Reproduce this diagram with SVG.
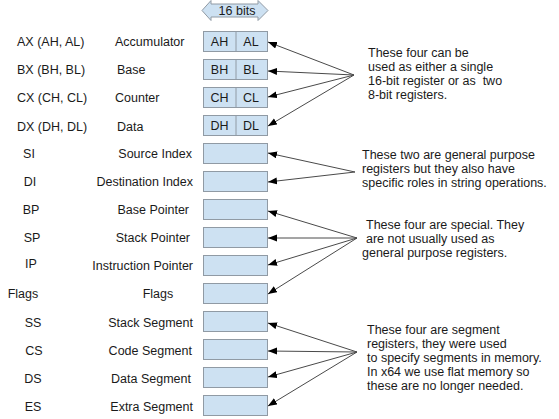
<svg xmlns="http://www.w3.org/2000/svg" width="559" height="419" viewBox="0 0 559 419">
<defs>
<style>
text{font-family:"Liberation Sans",Arial,sans-serif;font-size:12.5px;fill:#1a1a1a}
.m{text-anchor:middle}
.e{text-anchor:end}
.pre{white-space:pre}
.box{fill:#cde1f2;stroke:#909aa4;stroke-width:1}
.div{stroke:#909aa4;stroke-width:1}
.c{stroke:#4a4a4a;stroke-width:1;fill:none;marker-end:url(#ah)}
</style>
<marker id="ah" markerUnits="userSpaceOnUse" markerWidth="10" markerHeight="8" refX="9" refY="3.5" orient="auto">
<path d="M0,0 L9,3.5 L0,7 z" fill="#000"/>
</marker>
</defs>
<rect width="559" height="419" fill="#fff"/>
<g id="bits16">
<polygon points="202,10.5 211,0.5 211,4 258,4 258,0.5 268,10.5 258,20.5 258,17 211,17 211,20.5" fill="#cde1f2" stroke="#909aa4"/>
<text x="237" y="15" class="m">16 bits</text>
</g>
<g id="ax"><text x="17" y="46">AX (AH, AL)</text><text x="115" y="46">Accumulator</text><rect class="box" x="203.5" y="31.5" width="64" height="20"/><line class="div" x1="236" y1="31.5" x2="236" y2="51.5"/><text x="219.5" y="46" class="m">AH</text><text x="251" y="46" class="m">AL</text></g>
<g id="bx"><text x="17" y="74">BX (BH, BL)</text><text x="117" y="74">Base</text><rect class="box" x="203.5" y="59.5" width="64" height="20"/><line class="div" x1="236" y1="59.5" x2="236" y2="79.5"/><text x="219.5" y="74" class="m">BH</text><text x="251" y="74" class="m">BL</text></g>
<g id="cx"><text x="17" y="102">CX (CH, CL)</text><text x="115" y="102">Counter</text><rect class="box" x="203.5" y="87.5" width="64" height="20"/><line class="div" x1="236" y1="87.5" x2="236" y2="107.5"/><text x="219.5" y="102" class="m">CH</text><text x="251" y="102" class="m">CL</text></g>
<g id="dx"><text x="17" y="130.5">DX (DH, DL)</text><text x="117" y="130.5">Data</text><rect class="box" x="203.5" y="115.5" width="64" height="20"/><line class="div" x1="236" y1="115.5" x2="236" y2="135.5"/><text x="219.5" y="130" class="m">DH</text><text x="251" y="130" class="m">DL</text></g>
<g id="si"><text x="29" y="158" class="m">SI</text><text x="192" y="158" class="e">Source Index</text><rect class="box" x="203.5" y="143.5" width="64" height="20"/></g>
<g id="di"><text x="30" y="186" class="m">DI</text><text x="193" y="186" class="e">Destination Index</text><rect class="box" x="203.5" y="171.5" width="64" height="20"/></g>
<g id="bp"><text x="31" y="214" class="m">BP</text><text x="189" y="214" class="e">Base Pointer</text><rect class="box" x="203.5" y="199.5" width="64" height="20"/></g>
<g id="sp"><text x="32" y="242" class="m">SP</text><text x="190" y="242" class="e">Stack Pointer</text><rect class="box" x="203.5" y="227.5" width="64" height="20"/></g>
<g id="ip"><text x="31" y="268" class="m">IP</text><text x="193" y="270" class="e">Instruction Pointer</text><rect class="box" x="203.5" y="255.5" width="64" height="20"/></g>
<g id="flags"><text x="23" y="298" class="m">Flags</text><text x="158" y="298" class="m">Flags</text><rect class="box" x="203.5" y="283.5" width="64" height="20"/></g>
<g id="ss"><text x="33" y="327" class="m">SS</text><text x="193" y="327" class="e">Stack Segment</text><rect class="box" x="203.5" y="311.5" width="64" height="20"/></g>
<g id="cs"><text x="34" y="355" class="m">CS</text><text x="192" y="355" class="e">Code Segment</text><rect class="box" x="203.5" y="339.5" width="64" height="20"/></g>
<g id="ds"><text x="33" y="383" class="m">DS</text><text x="191" y="383" class="e">Data Segment</text><rect class="box" x="203.5" y="367.5" width="64" height="20"/></g>
<g id="es"><text x="33" y="411" class="m">ES</text><text x="193" y="411" class="e">Extra Segment</text><rect class="box" x="203.5" y="395.5" width="64" height="20"/></g>
<g id="note1"><text x="368" y="57">These four can be</text><text x="368" y="71">used as either a single</text><text x="368" y="85" class="pre">16-bit register or as  two</text><text x="368" y="99">8-bit registers.</text></g>
<g id="note2"><text x="362" y="159">These two are general purpose</text><text x="362" y="173">registers but they also have</text><text x="362" y="187">specific roles in string operations.</text></g>
<g id="note3"><text x="366" y="229">These four are special. They</text><text x="366" y="243">are not usually used as</text><text x="362" y="257">general purpose registers.</text></g>
<g id="note4"><text x="367" y="334">These four are segment</text><text x="367" y="348">registers, they were used</text><text x="367" y="362">to specify segments in memory.</text><text x="367" y="376">In x64 we use flat memory so</text><text x="367" y="390">these are no longer needed.</text></g>
<g id="connectors">
<line class="c" x1="354" y1="75" x2="268" y2="42"/>
<line class="c" x1="354" y1="75" x2="268" y2="71"/>
<line class="c" x1="354" y1="75" x2="268" y2="97"/>
<line class="c" x1="354" y1="75" x2="268" y2="126"/>
<line class="c" x1="355" y1="172" x2="268" y2="153"/>
<line class="c" x1="355" y1="172" x2="268" y2="182"/>
<line class="c" x1="357" y1="238" x2="268" y2="211"/>
<line class="c" x1="357" y1="238" x2="268" y2="238"/>
<line class="c" x1="357" y1="238" x2="268" y2="265"/>
<line class="c" x1="357" y1="238" x2="268" y2="294"/>
<line class="c" x1="357" y1="352" x2="268" y2="323"/>
<line class="c" x1="357" y1="352" x2="268" y2="351"/>
<line class="c" x1="357" y1="352" x2="268" y2="377"/>
<line class="c" x1="357" y1="352" x2="268" y2="406"/>
</g>
</svg>
